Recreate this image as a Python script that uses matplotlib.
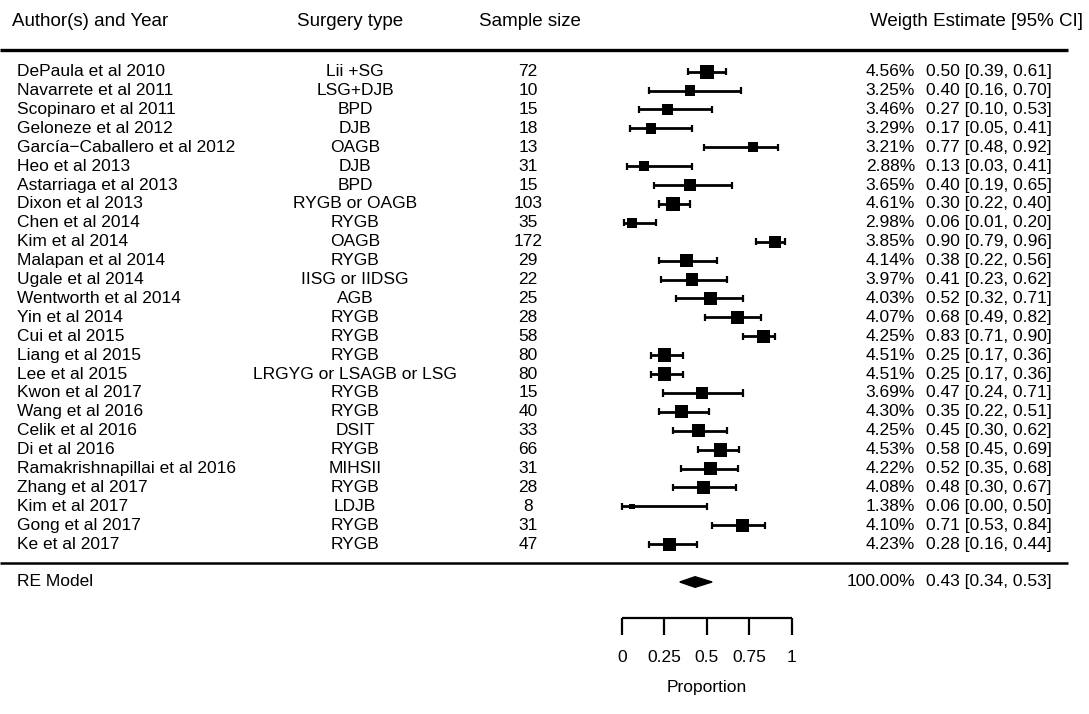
import matplotlib
matplotlib.use("Agg")
import matplotlib.pyplot as plt
from matplotlib.patches import Polygon

authors = ["DePaula et al 2010", "Navarrete et al 2011", "Scopinaro et al 2011",
           "Geloneze et al 2012", "García\u2212Caballero et al 2012", "Heo et al 2013",
           "Astarriaga et al 2013", "Dixon et al 2013", "Chen et al 2014", "Kim et al 2014",
           "Malapan et al 2014", "Ugale et al 2014", "Wentworth et al 2014", "Yin et al 2014",
           "Cui et al 2015", "Liang et al 2015", "Lee et al 2015", "Kwon et al 2017",
           "Wang et al 2016", "Celik et al 2016", "Di et al 2016", "Ramakrishnapillai et al 2016",
           "Zhang et al 2017", "Kim et al 2017", "Gong et al 2017", "Ke et al 2017"]
surgery = ["Lii +SG", "LSG+DJB", "BPD", "DJB", "OAGB", "DJB", "BPD", "RYGB or OAGB",
           "RYGB", "OAGB", "RYGB", "IISG or IIDSG", "AGB", "RYGB", "RYGB", "RYGB",
           "LRGYG or LSAGB or LSG", "RYGB", "RYGB", "DSIT", "RYGB", "MIHSII", "RYGB",
           "LDJB", "RYGB", "RYGB"]
sample_size = [72, 10, 15, 18, 13, 31, 15, 103, 35, 172, 29, 22, 25, 28, 58, 80, 80,
               15, 40, 33, 66, 31, 28, 8, 31, 47]
weights = [4.56, 3.25, 3.46, 3.29, 3.21, 2.88, 3.65, 4.61, 2.98, 3.85, 4.14, 3.97, 4.03,
           4.07, 4.25, 4.51, 4.51, 3.69, 4.30, 4.25, 4.53, 4.22, 4.08, 1.38, 4.10, 4.23]
est = [0.50, 0.40, 0.27, 0.17, 0.77, 0.13, 0.40, 0.30, 0.06, 0.90, 0.38, 0.41, 0.52,
       0.68, 0.83, 0.25, 0.25, 0.47, 0.35, 0.45, 0.58, 0.52, 0.48, 0.06, 0.71, 0.28]
ci_lo = [0.39, 0.16, 0.10, 0.05, 0.48, 0.03, 0.19, 0.22, 0.01, 0.79, 0.22, 0.23, 0.32,
         0.49, 0.71, 0.17, 0.17, 0.24, 0.22, 0.30, 0.45, 0.35, 0.30, 0.00, 0.53, 0.16]
ci_hi = [0.61, 0.70, 0.53, 0.41, 0.92, 0.41, 0.65, 0.40, 0.20, 0.96, 0.56, 0.62, 0.71,
         0.82, 0.90, 0.36, 0.36, 0.71, 0.51, 0.62, 0.69, 0.68, 0.67, 0.50, 0.84, 0.44]
re_est, re_lo, re_hi = 0.43, 0.34, 0.53
ticks = [0, 0.25, 0.5, 0.75, 1]
tick_labels = ["0", "0.25", "0.5", "0.75", "1"]

plt.rcParams['font.family'] = ['Liberation Sans', 'DejaVu Sans']

fig = plt.figure(figsize=(10.89, 7.14), dpi=100)
ax = fig.add_axes([0, 0, 1, 1])
ax.set_axis_off()

# x: proportion scale, 0 at px 622, 1 at px 792 ; y: row index, 18.9 px per row
x0, xs = 622.0, 170.0
y0, ys = 71.7, 18.9
ax.set_xlim(-x0 / xs, (1089 - x0) / xs)
ax.set_ylim((714 - y0) / ys, -y0 / ys)

def px(p):
    return (p - x0) / xs

fs = 12.5
hfs = 13.5
n = len(authors)
rows = list(range(n))

# header
hy = (22 - y0) / ys
ax.text(px(12), hy, "Author(s) and Year", fontsize=hfs, ha="left", va="center")
ax.text(px(350), hy, "Surgery type", fontsize=hfs, ha="center", va="center")
ax.text(px(530), hy, "Sample size", fontsize=hfs, ha="center", va="center")
ax.text(px(1083), hy, "Weigth Estimate [95% CI]", fontsize=hfs, ha="right", va="center")
ax.hlines((50.5 - y0) / ys, px(0), px(1068), color="black", lw=2.4)
ax.hlines(n, px(0), px(1068), color="black", lw=1.8)

# study rows
for i in rows:
    ax.text(px(17), i, authors[i], fontsize=fs, ha="left", va="center")
    ax.text(px(355), i, surgery[i], fontsize=fs, ha="center", va="center")
    ax.text(px(528), i, str(sample_size[i]), fontsize=fs, ha="center", va="center")
    ax.text(px(915), i, f"{weights[i]:.2f}%", fontsize=fs, ha="right", va="center")
    ax.text(px(1052), i, f"{est[i]:.2f} [{ci_lo[i]:.2f}, {ci_hi[i]:.2f}]",
            fontsize=fs, ha="right", va="center")

ax.hlines(rows, ci_lo, ci_hi, color="black", lw=2.0)
ax.vlines(ci_lo, [r - 0.19 for r in rows], [r + 0.19 for r in rows], color="black", lw=1.6)
ax.vlines(ci_hi, [r - 0.19 for r in rows], [r + 0.19 for r in rows], color="black", lw=1.6)
sizes = [((2.0 + 2.6 * w) * 0.72) ** 2 for w in weights]
ax.scatter(est, rows, s=sizes, marker="s", color="black", linewidths=0, zorder=3)

# RE model
ry = n + 1
ax.text(px(17), ry, "RE Model", fontsize=fs, ha="left", va="center")
ax.text(px(915), ry, "100.00%", fontsize=fs, ha="right", va="center")
ax.text(px(1052), ry, f"{re_est:.2f} [{re_lo:.2f}, {re_hi:.2f}]", fontsize=fs,
        ha="right", va="center")
h = 0.28
ax.add_patch(Polygon([(re_lo, ry), (re_est, ry - h), (re_hi, ry), (re_est, ry + h)],
                     closed=True, color="black"))

# axis
ay = (618 - y0) / ys
ax.hlines(ay, ticks[0], ticks[-1], color="black", lw=1.6)
ax.vlines(ticks, ay, (635 - y0) / ys, color="black", lw=1.6)
for t, lab in zip(ticks, tick_labels):
    ax.text(t, (658 - y0) / ys, lab, fontsize=fs, ha="center", va="center")
ax.text(0.5, (688 - y0) / ys, "Proportion", fontsize=fs, ha="center", va="center")

fig.savefig("out.png", dpi=100)
